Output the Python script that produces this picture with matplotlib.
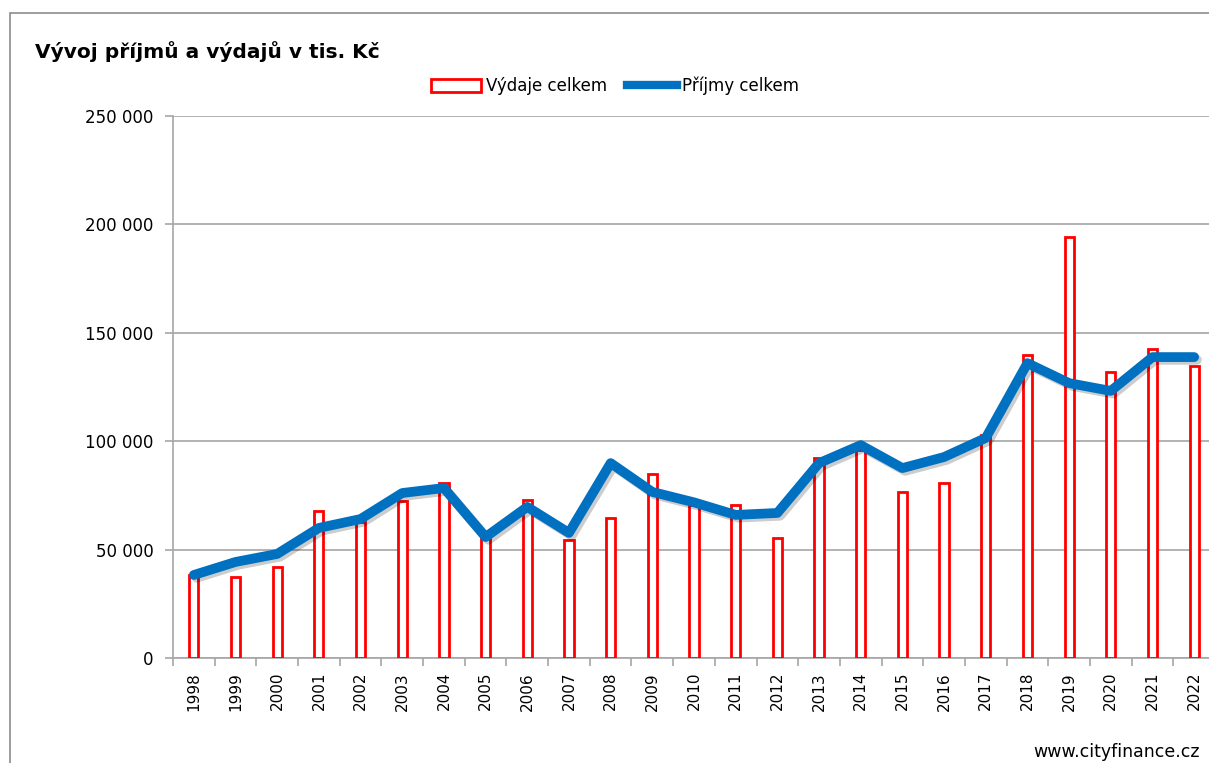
import matplotlib
matplotlib.use("Agg")
import matplotlib.pyplot as plt
import matplotlib.patheffects as pe
from matplotlib.patches import Rectangle
from matplotlib.lines import Line2D
from matplotlib.ticker import FuncFormatter, FixedLocator
import numpy as np

years = [str(y) for y in range(1998, 2023)]
vydaje = [38500, 37400, 42000, 67800, 62700, 72400, 80700, 57000, 72900, 54400,
          64600, 84900, 70500, 70600, 55300, 92300, 95900, 76600, 80700, 102900,
          139800, 194200, 131900, 142500, 134700]
prijmy = [38300, 44300, 48000, 60000, 64100, 76100, 78400, 55800, 69700, 57700,
          89900, 76600, 71800, 66000, 66900, 89900, 98200, 87600, 92700, 101500,
          136000, 126800, 123200, 138800, 138800]

RED = "#ff0000"
BLUE = "#0070c0"
GRID = "#a6a6a6"

fig = plt.figure(figsize=(12.09, 7.63), dpi=100)
# outer chart frame (cropped on the right and bottom in the original)
fig.patches.append(Rectangle((10 / 1209, -0.1), 1.2, 1 - 13 / 763 + 0.1,
                             transform=fig.transFigure, fill=False,
                             edgecolor="#8c8c8c", lw=1.2))
# plot area runs slightly past the right edge of the picture
ax = fig.add_axes([173 / 1209, 1 - 658 / 763, (1215 - 173) / 1209, (658 - 116) / 763])

x = np.arange(len(years))
ax.bar(x, vydaje, width=0.22, facecolor="white", edgecolor=RED, lw=2.0, zorder=3)
ax.plot(x, prijmy, color=BLUE, lw=7, solid_capstyle="round", solid_joinstyle="round",
        zorder=4, path_effects=[pe.SimpleLineShadow(offset=(2, -2), alpha=0.2), pe.Normal()])

ax.set_xlim(-0.5, len(years) - 0.5)
ax.set_ylim(0, 250000)
ax.set_yticks(range(0, 250001, 50000))
ax.yaxis.set_major_formatter(FuncFormatter(lambda v, p: f"{int(v):,}".replace(",", " ")))
ax.yaxis.grid(True, color=GRID, lw=1.2, zorder=0)
ax.set_axisbelow(True)

ax.set_xticks(x)
ax.set_xticklabels(years, rotation=90, fontsize=11)
ax.xaxis.set_minor_locator(FixedLocator(np.arange(-0.5, len(years), 1)))
ax.tick_params(axis="x", which="major", length=0, pad=10)
ax.tick_params(axis="x", which="minor", length=6, color=GRID, width=1.2)
ax.tick_params(axis="y", length=6, color=GRID, width=1.2, labelsize=12, pad=8)

for s in ["top", "right"]:
    ax.spines[s].set_visible(False)
for s in ["left", "bottom"]:
    ax.spines[s].set_color(GRID)
    ax.spines[s].set_linewidth(1.2)

fig.text(35 / 1209, 1 - 52 / 763, "Vývoj příjmů a výdajů v tis. Kč", fontsize=14.5,
         weight="bold", va="center", ha="left")

leg = [
    Rectangle((0, 0), 1, 1, facecolor="white", edgecolor=RED, lw=2, label="Výdaje celkem"),
    Line2D([0], [0], color=BLUE, lw=6, label="Příjmy celkem"),
]
fig.legend(handles=leg, loc="center", bbox_to_anchor=(615 / 1209, 1 - 86 / 763), ncol=2,
           frameon=False, fontsize=12, handlelength=3.0, handleheight=0.8,
           handletextpad=0.3, columnspacing=1.2)

fig.text(1200 / 1209, 1 - 752 / 763, "www.cityfinance.cz", fontsize=12.5, ha="right", va="center")

fig.savefig("out.png", dpi=100)
